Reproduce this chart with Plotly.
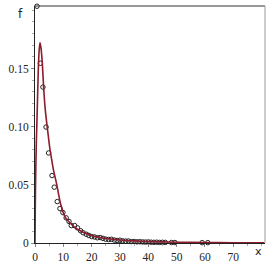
import plotly.graph_objects as go

# fitted density curve
curve_x = [0, 0.1, 0.25, 0.46, 0.8, 1.15, 1.45, 1.75, 2.1, 2.57, 3.0, 3.5, 4.0, 4.6, 5.2, 5.8,
           6.5, 7.7, 9.0, 10.7, 12.5, 14, 16, 18, 20, 23, 26, 30, 35, 40, 50, 60, 70, 81]
curve_y = [0, 0.03, 0.06, 0.085, 0.115, 0.148, 0.165, 0.172, 0.168, 0.155, 0.136, 0.118, 0.106,
           0.094, 0.082, 0.073, 0.063, 0.050, 0.034, 0.022, 0.017, 0.0135, 0.0105, 0.0082, 0.0065,
           0.0048, 0.0036, 0.0026, 0.0018, 0.0013, 0.0007, 0.0004, 0.00025, 0.00015]

# empirical frequencies (open circles)
pts_x = [0.7, 1.9, 2.8, 3.9, 4.8, 6.0, 6.8, 7.85, 8.8, 9.85, 11.0, 12.0, 12.8, 14.0, 15.0, 16.1,
         17.0, 18.1, 19.0, 20.0, 21.0, 22.0, 23.0, 24.0, 25.0, 26.0, 27.0, 28.0, 29.0, 30.0,
         31.0, 32.0, 33.0, 34.0, 35.0, 36.0, 37.0, 38.0, 39.0, 40.0, 41.0, 42.0, 43.0, 44.0,
         45.0, 46.0, 48.2, 49.4, 59.0, 61.0]
pts_y = [0.2035, 0.1545, 0.134, 0.0997, 0.0774, 0.058, 0.048, 0.0356, 0.0296, 0.0262, 0.0216,
         0.0185, 0.015, 0.015, 0.013, 0.0105, 0.0088, 0.0075, 0.0065, 0.0055, 0.0052, 0.0045,
         0.0047, 0.004, 0.0033, 0.003, 0.0032, 0.0025, 0.0022, 0.0024, 0.0018, 0.0016, 0.0017,
         0.0012, 0.0013, 0.001, 0.0011, 0.0009, 0.0008, 0.0009, 0.0007, 0.0006, 0.0007, 0.0005,
         0.0006, 0.0005, 0.0004, 0.0004, 0.0003, 0.0003]

x_ticks = [0, 10, 20, 30, 40, 50, 60, 70]
y_ticks = [0, 0.05, 0.10, 0.15]
y_tick_text = ["0", "0.05", "0.10", "0.15"]

serif = "Liberation Serif, DejaVu Serif, serif"

fig = go.Figure()
fig.add_trace(go.Scatter(x=pts_x, y=pts_y, mode="markers",
                         marker=dict(symbol="circle-open", size=4.5, color="#222222",
                                     line=dict(width=1, color="#222222")),
                         cliponaxis=False, hoverinfo="skip"))
fig.add_trace(go.Scatter(x=curve_x, y=curve_y, mode="lines",
                         line=dict(color="#8c1c2e", width=1.6, shape="spline", smoothing=0.6),
                         hoverinfo="skip"))

fig.update_layout(
    width=273, height=273,
    margin=dict(l=35, r=8, t=6, b=29.5, autoexpand=False),
    paper_bgcolor="white", plot_bgcolor="white",
    showlegend=False,
    font=dict(family=serif),
    xaxis=dict(range=[0, 81.2], tickvals=x_ticks, ticktext=[str(v) for v in x_ticks],
               automargin=False,
               showgrid=False, zeroline=False, showline=True, linecolor="#222222", linewidth=1,
               ticks="outside", ticklen=3, tickcolor="#888888",
               minor=dict(dtick=5, ticks="outside", ticklen=2, tickcolor="#aaaaaa"),
               tickfont=dict(family=serif, size=11.5, color="#222222")),
    yaxis=dict(range=[0, 0.2037], tickvals=y_ticks, ticktext=y_tick_text,
               automargin=False,
               showgrid=False, zeroline=False, showline=True, linecolor="#222222", linewidth=1,
               ticks="outside", ticklen=3, tickcolor="#888888",
               minor=dict(dtick=0.01, ticks="outside", ticklen=2, tickcolor="#aaaaaa"),
               tickfont=dict(family=serif, size=11.5, color="#222222")),
    shapes=[
        dict(type="line", xref="paper", yref="paper", x0=0, x1=1, y0=1, y1=1,
             line=dict(color="#333333", width=1)),
        dict(type="line", xref="paper", yref="paper", x0=1, x1=1, y0=0, y1=1,
             line=dict(color="#999999", width=1)),
    ],
    annotations=[
        dict(text="f", xref="paper", yref="paper", x=-0.065, y=0.966, showarrow=False,
             xanchor="center", yanchor="middle",
             font=dict(family="DejaVu Sans", size=12, color="#222222")),
        dict(text="x", xref="paper", yref="paper", x=0.97, y=-0.036, xanchor="center",
             yanchor="middle", showarrow=False,
             font=dict(family="DejaVu Sans", size=11, color="#222222")),
    ],
)

fig.write_html("out.html", config={"displayModeBar": False, "staticPlot": True},
               post_script="document.body.style.margin='0';document.body.style.padding='0';")
